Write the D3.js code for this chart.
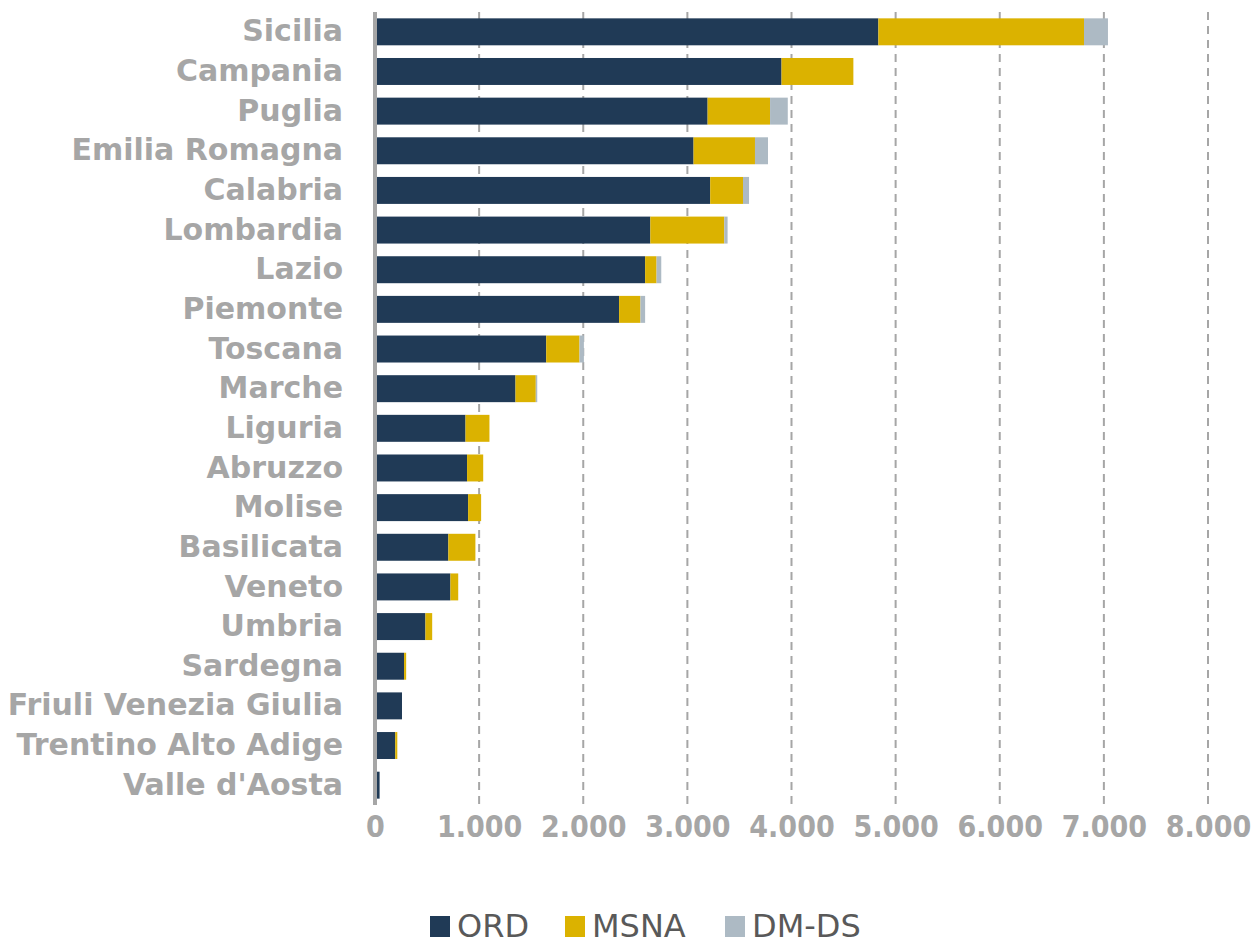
<!DOCTYPE html>
<html>
<head>
<meta charset="utf-8">
<script src="https://cdn.jsdelivr.net/npm/d3@7"></script>
<style>
  body { margin: 0; background: #fff; }
  svg { display: block; }
</style>
</head>
<body>
<svg width="1257" height="946"></svg>
<script>
// regioni, dall'alto in basso
const regions = ['Sicilia', 'Campania', 'Puglia', 'Emilia Romagna', 'Calabria', 'Lombardia',
    'Lazio', 'Piemonte', 'Toscana', 'Marche', 'Liguria', 'Abruzzo', 'Molise', 'Basilicata',
    'Veneto', 'Umbria', 'Sardegna', 'Friuli Venezia Giulia', 'Trentino Alto Adige', "Valle d'Aosta"];

const ord  = [4815, 3885, 3175, 3040, 3200, 2625, 2575, 2325, 1625, 1330, 850, 865, 875, 685, 705, 465, 260, 240, 175, 25];
const msna = [1975, 690, 600, 590, 315, 710, 110, 205, 320, 195, 230, 155, 125, 260, 75, 65, 20, 0, 20, 0];
const dmds = [230, 0, 170, 125, 58, 32, 45, 45, 42, 14, 0, 0, 0, 0, 0, 0, 0, 0, 0, 0];

const seriesNames = ['ORD', 'MSNA', 'DM-DS'];
const colors = ['#203a56', '#dbb200', '#adbac4'];
const xTicks = [0, 1000, 2000, 3000, 4000, 5000, 6000, 7000, 8000];

const svg = d3.select('svg');
const mLeft = 375, mRight = 1208, mTop = 12, mBottom = 805;

const rows = regions.map((r, i) => ({ region: r, ORD: ord[i], MSNA: msna[i], 'DM-DS': dmds[i] }));
const stacked = d3.stack().keys(seriesNames)(rows);

const x = d3.scaleLinear().domain([0, 8000]).range([mLeft, mRight]);
const y = d3.scaleBand().domain(regions).range([mTop, mBottom]).paddingInner(0.32).paddingOuter(0.16);

// griglia tratteggiata
svg.append('g')
    .selectAll('line')
    .data(xTicks.slice(1))
    .join('line')
    .attr('x1', d => x(d)).attr('x2', d => x(d))
    .attr('y1', mTop).attr('y2', mBottom)
    .attr('stroke', '#a6a6a6')
    .attr('stroke-width', 2)
    .attr('stroke-dasharray', '8,6');

// barre
svg.append('g')
    .selectAll('g')
    .data(stacked)
    .join('g')
    .attr('fill', (d, i) => colors[i])
    .selectAll('rect')
    .data(d => d)
    .join('rect')
    .attr('x', d => x(d[0]) + 2)
    .attr('y', d => y(d.data.region))
    .attr('width', d => Math.max(0, x(d[1]) - x(d[0])))
    .attr('height', y.bandwidth());

// asse verticale
svg.append('line')
    .attr('x1', mLeft).attr('x2', mLeft)
    .attr('y1', mTop).attr('y2', mBottom)
    .attr('stroke', '#a6a6a6')
    .attr('stroke-width', 4);

// etichette regioni
const yAxis = svg.append('g')
    .attr('transform', `translate(${mLeft - 32},0)`)
    .call(d3.axisLeft(y).tickSize(0).tickPadding(0));
yAxis.select('.domain').remove();
yAxis.selectAll('text')
    .attr('fill', '#a6a6a6')
    .attr('font-family', 'DejaVu Sans')
    .attr('font-weight', 'bold')
    .attr('font-size', 30);

// etichette asse x
const fmt = d3.formatLocale({ decimal: ',', thousands: '.', grouping: [3], currency: ['€', ''] }).format(',');
const xAxis = svg.append('g')
    .attr('transform', `translate(0,${mBottom + 11})`)
    .call(d3.axisBottom(x).tickValues(xTicks).tickFormat(fmt).tickSize(0).tickPadding(0));
xAxis.select('.domain').remove();
xAxis.selectAll('text')
    .attr('fill', '#a6a6a6')
    .attr('font-family', 'DejaVu Sans Condensed')
    .attr('font-weight', 'bold')
    .attr('font-size', 30);

// legenda
const legendX = [430, 565, 725];
const legend = svg.append('g')
    .selectAll('g')
    .data(seriesNames)
    .join('g')
    .attr('transform', (d, i) => `translate(${legendX[i]},916)`);
legend.append('rect')
    .attr('width', 20).attr('height', 21)
    .attr('fill', (d, i) => colors[i]);
legend.append('text')
    .attr('x', 27).attr('y', 21)
    .attr('fill', '#595959')
    .attr('font-family', 'DejaVu Sans')
    .attr('font-size', 32)
    .text(d => d);
</script>
</body>
</html>
